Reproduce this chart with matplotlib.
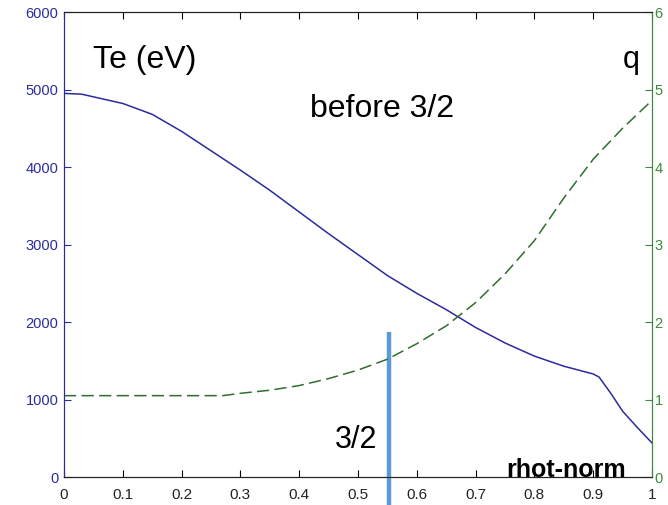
import numpy as np
import matplotlib
matplotlib.use("Agg")
import matplotlib.pyplot as plt

# normalised radius
rho = [0.0, 0.03, 0.1, 0.15, 0.2, 0.25, 0.3, 0.35, 0.4, 0.45, 0.5, 0.55,
       0.6, 0.65, 0.7, 0.75, 0.8, 0.85, 0.9, 0.91, 0.93, 0.95, 0.975, 1.0]
# electron temperature (eV)
te = [4950, 4940, 4820, 4680, 4460, 4210, 3960, 3700, 3420, 3140, 2870, 2600,
      2370, 2160, 1930, 1730, 1560, 1430, 1330, 1290, 1080, 850, 640, 440]

# safety factor q
rho_q = [0.0, 0.1, 0.2, 0.27, 0.3, 0.35, 0.4, 0.45, 0.5, 0.55, 0.6, 0.65,
         0.7, 0.75, 0.8, 0.85, 0.9, 0.95, 1.0]
q = [1.05, 1.05, 1.05, 1.05, 1.08, 1.12, 1.18, 1.27, 1.38, 1.52, 1.72, 1.95,
     2.25, 2.62, 3.05, 3.6, 4.1, 4.5, 4.86]

rho_32 = 0.553        # position of q = 3/2 surface
te_marker_top = 1870

blue = "#2b2b9e"
green = "#3c8a3c"

plt.rcParams["font.family"] = ["Liberation Sans", "DejaVu Sans"]

fig = plt.figure(figsize=(6.68, 5.05), dpi=100)
ax = fig.add_axes([0.0958, 0.0554, 0.8802, 0.9208])
ax2 = ax.twinx()

ax.plot(rho, te, color=blue, lw=1.1)
ax2.plot(rho_q, q, color="#2f6e2f", lw=1.1, dashes=(8, 3.5))

ax.set_xlim(0, 1)
ax.set_ylim(0, 6000)
ax2.set_ylim(0, 6)
ax.set_xticks(np.arange(0, 1.01, 0.1))
ax.set_xticklabels(["0", "0.1", "0.2", "0.3", "0.4", "0.5", "0.6", "0.7", "0.8", "0.9", "1"])
ax.set_yticks(range(0, 6001, 1000))
ax2.set_yticks(range(0, 7))

ax.tick_params(axis="x", direction="in", top=True, length=5, labelsize=11, pad=8,
               labelcolor="#222222")
ax.tick_params(axis="y", direction="in", length=5, colors=blue, labelsize=10.5, pad=4)
ax2.tick_params(axis="y", direction="in", length=5, colors=green, labelsize=10.5, pad=2)

for a in (ax, ax2):
    a.spines["left"].set_color(blue)
    a.spines["right"].set_color(green)
    a.spines["top"].set_color("#222222")
    a.spines["bottom"].set_color("#222222")

# q = 3/2 marker, runs below the axis
ax.plot([rho_32, rho_32], [te_marker_top, -420], color="#5b9bd5", lw=3.2,
        clip_on=False, zorder=5, solid_capstyle="butt")

ax.text(0.049, 0.88, "Te (eV)", transform=ax.transAxes, fontsize=23, va="baseline")
ax.text(0.951, 0.88, "q", transform=ax.transAxes, fontsize=22, va="baseline")
ax.text(0.418, 0.774, "before 3/2", transform=ax.transAxes, fontsize=23, va="baseline")
ax.text(0.532, 0.062, "3/2", transform=ax.transAxes, fontsize=22, va="baseline", ha="right")
ax.text(0.752, 0.0, "rhot-norm", transform=ax.transAxes, fontsize=18,
        fontweight="bold", va="baseline")

fig.savefig("out.png", dpi=100, facecolor="white")
